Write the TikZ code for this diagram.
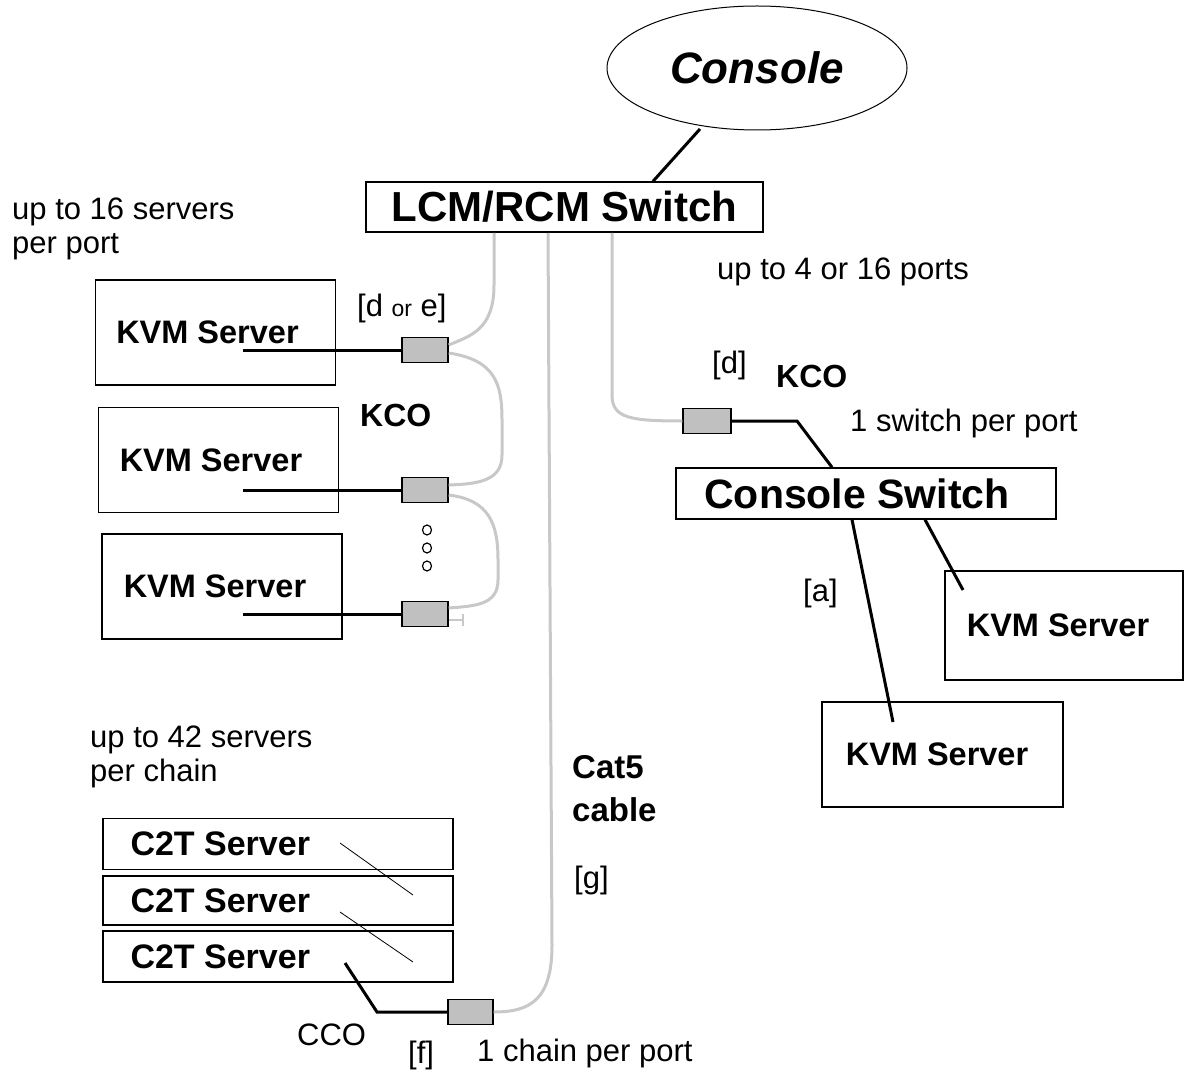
\documentclass[tikz,border=0pt]{standalone}
\usepackage{fontspec}
\setmainfont{Liberation Sans}
\usetikzlibrary{shapes.geometric}
\definecolor{cablegray}{RGB}{200,200,200}
\definecolor{plugfill}{RGB}{192,192,192}

\tikzset{
  box/.style={draw,line width=1.4pt,fill=white,inner sep=0pt},
  srvbox/.style={box,minimum width=240pt,minimum height=105pt,font=\fontsize{32.5}{36}\bfseries},
  c2tbox/.style={box,minimum width=350pt,minimum height=51pt},
  plug/.style={draw,line width=1.4pt,fill=plugfill,minimum width=46pt,minimum height=25pt,inner sep=0pt},
  note/.style={anchor=west,inner sep=0pt,font=\fontsize{31}{34}\selectfont,align=left},
  bnote/.style={note,font=\fontsize{32}{43}\bfseries},
  cable/.style={cablegray,line width=3pt},
  wire/.style={black,line width=3pt},
  thinwire/.style={black,line width=0.8pt}
}

\begin{document}
\begin{tikzpicture}[x=1pt,y=-1pt]
  \useasboundingbox (0,0) rectangle (1190,1075);
  % top: console and LCM/RCM switch
  \node[draw,ellipse,line width=1pt,minimum width=300pt,minimum height=124pt,font=\fontsize{44}{48}\bfseries\itshape] (console) at (757,68) {Console};
  \node[box,minimum width=397pt,minimum height=50pt,font=\fontsize{42}{46}\bfseries] (lcm) at (564.5,207) {LCM/RCM Switch};
  \coordinate (conbot) at (700,129);
  \draw[wire] (conbot) -- (lcm.north -| 653,0);

  % left: KVM servers behind KCOs
  \node[srvbox] (kvmA) at (215.5,332.5) {KVM Server\kern16pt};
  \node[srvbox] (kvmB) at (218.5,460) {KVM Server\kern15pt};
  \node[srvbox] (kvmC) at (222,586.5) {KVM Server\kern14pt};
  \node[plug] (kcoA) at (425,350) {};
  \node[plug] (kcoB) at (425,490) {};
  \node[plug] (kcoC) at (425,614) {};
  \coordinate (kvmAout) at (243,350);
  \coordinate (kvmBout) at (243,490);
  \coordinate (kvmCout) at (243,614);
  \draw[wire] (kvmAout) -- (kcoA.west);
  \draw[wire] (kvmBout) -- (kcoB.west);
  \draw[wire] (kvmCout) -- (kcoC.west);
  \coordinate (portA) at (494,233);
  \coordinate (portB) at (548,233);
  \coordinate (portC) at (612,233);
  \draw[cable] (portA) -- (494,285) .. controls (494,330) and (470,336) .. ([yshift=5pt]kcoA.east);
  \draw[cable] ([yshift=-3pt]kcoA.east) .. controls (496,360) and (502,385) .. (502,420)
    -- (502,455) .. controls (502,480) and (480,484) .. ([yshift=5pt]kcoB.east);
  \draw[cable] ([yshift=-5pt]kcoB.east) .. controls (490,500) and (498,525) .. (498,560)
    -- (498,580) .. controls (498,605) and (475,606) .. ([yshift=6pt]kcoC.east);
  \draw[cable,line width=2pt] ([yshift=-6pt]kcoC.east) -- ++(14,0) ++(0,-6) -- ++(0,12);
  \foreach \y in {530,548,566}
    \draw[line width=1.2pt] (427,\y) ellipse (4.5pt and 5pt);

  % right: KCO to a console switch
  \node[plug,minimum width=48pt] (kcoR) at (707,421) {};
  \node[box,minimum width=380pt,minimum height=51pt,font=\fontsize{41}{44}\bfseries] (cswitch) at (866,493.5) {Console Switch\kern18pt};
  \node[srvbox,minimum width=238pt,minimum height=109pt] (kvmR) at (1064,625.5) {KVM Server\kern12pt};
  \node[srvbox,minimum width=241pt] (kvmL) at (942.5,754.5) {KVM Server\kern11pt};
  \draw[cable] (portC) -- (612,395) .. controls (612,418) and (630,421) .. (kcoR.west);
  \draw[wire] (kcoR.east) -- (797,421) -- (cswitch.north -| 832,0);
  \coordinate (kvmRin) at (963,590);
  \coordinate (kvmLin) at (893,722);
  \draw[wire] (cswitch.south -| 925,0) -- (kvmRin);
  \draw[wire] (cswitch.south -| 852,0) -- (kvmLin);

  % bottom: C2T chain on a CCO
  \node[c2tbox] (c2tA) at (278,844) {};
  \node[c2tbox,minimum height=49pt] (c2tB) at (278,900.5) {};
  \node[c2tbox] (c2tC) at (278,956.5) {};
  \foreach \n in {A,B,C}
    \node[bnote,font=\fontsize{34}{40}\bfseries] at ([xshift=28pt]c2t\n.west) {C2T Server};
  \draw[thinwire] (340,843) -- (413,895);
  \draw[thinwire] (340,912) -- (413,962);
  \node[plug,minimum width=45pt] (cco) at (470.5,1012) {};
  \coordinate (c2tout) at (345,963);
  \draw[wire] (c2tout) -- (377,1012) -- (cco.west);
  \draw[cable] (portB) -- (552,945) .. controls (552,1000) and (530,1012) .. (cco.east);

  % notes
  \node[note] at (12,229) {up to 16 servers\\per port};
  \node[note] at (717,272) {up to 4 or 16 ports};
  \node[note] at (357,308) {[d {\fontsize{23}{24}\selectfont or} e]};
  \node[bnote] at (360,415) {KCO};
  \node[note] at (712,365) {[d]};
  \node[bnote] at (776,376) {KCO};
  \node[note] at (850,423) {1 switch per port};
  \node[note] at (803,593) {[a]};
  \node[note] at (90,757) {up to 42 servers\\per chain};
  \node[bnote,font=\fontsize{33}{43}\bfseries] at (572,789) {Cat5\\cable};
  \node[note] at (574,880) {[g]};
  \node[note] at (297,1035) {CCO};
  \node[note] at (408,1055) {[f]};
  \node[note] at (477,1053) {1 chain per port};
\end{tikzpicture}
\end{document}
